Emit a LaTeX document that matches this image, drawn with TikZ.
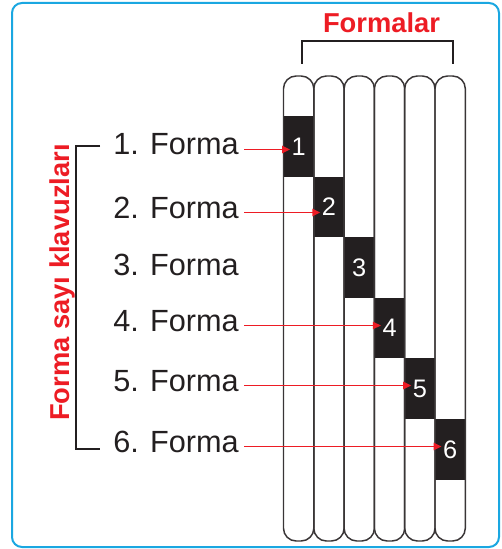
\documentclass[tikz,border=0pt]{standalone}
\usepackage{fontspec}
\setmainfont{Liberation Sans}
\usetikzlibrary{arrows.meta,calc}
\definecolor{frameblue}{HTML}{1AA7E1}
\definecolor{kred}{HTML}{ED1C24}
\definecolor{kdark}{HTML}{231F20}
\tikzset{
  colbox/.style={draw=kdark!90, line width=1.1pt, rounded corners=9.5pt},
  blk/.style={fill=kdark, draw=none},
  numlbl/.style={text=white, font=\fontsize{19}{19}\selectfont, inner sep=1pt},
  formlbl/.style={anchor=base west, text=kdark, inner sep=0pt, font=\fontsize{23}{23}\selectfont},
  arr/.style={draw=kred, line width=1.1pt, -{Triangle[length=6pt,width=5.5pt]}, kred},
  brk/.style={draw=kdark, line width=1.1pt},
  redtitle/.style={text=kred, font=\bfseries\fontsize{20.5}{20.5}\selectfont, inner sep=0pt}
}
\begin{document}
\begin{tikzpicture}[x=0.75pt,y=-0.75pt]
\useasboundingbox (0,0) rectangle (501,549);
% frame
\draw[frameblue, line width=1.5pt, rounded corners=7.5pt] (12,3) rectangle (499,547);
% blocks
\foreach \i in {1,...,6}{
  \pgfmathsetmacro{\xa}{283.5+30.3*(\i-1)}
  \pgfmathsetmacro{\xb}{283.5+30.3*\i}
  \pgfmathsetmacro{\ya}{116+60.6*(\i-1)}
  \pgfmathsetmacro{\yb}{116+60.6*\i}
  \fill[blk] (\xa,\ya) rectangle (\xb,\yb);
  \node[numlbl] (n\i) at ({(\xa+\xb)/2},{(\ya+\yb)/2}) {\i};
}
% columns
\foreach \i in {1,...,6}{
  \pgfmathsetmacro{\xa}{283.5+30.3*(\i-1)}
  \pgfmathsetmacro{\xb}{283.5+30.3*\i}
  \draw[colbox] (\xa,76) rectangle (\xb,541);
}
% top bracket and title
\draw[brk] (302,64) -- (302,41) -- (453,41) -- (453,64);
\node[redtitle, anchor=base] (title) at (381.5,33) {Formalar};
% left bracket and title
\draw[brk] (100,146) -- (76,146) -- (76,449) -- (100,449);
\node[redtitle, anchor=base, rotate=90] (side) at (69,282.5) {Forma sayı klavuzları};
% labels
\node[formlbl] (t1) at (113,155) {1. Forma};
\node[formlbl] (t2) at (113,218) {2. Forma};
\node[formlbl] (t3) at (113,275) {3. Forma};
\node[formlbl] (t4) at (113,331) {4. Forma};
\node[formlbl] (t5) at (113,391) {5. Forma};
\node[formlbl] (t6) at (113,452) {6. Forma};
% arrows
\foreach \i in {1,2,4,5,6}{
  \draw[arr] ($(t\i.base east)+(5,-5.5)$) coordinate (s\i) -- (s\i -| n\i.west);
}
\end{tikzpicture}
\end{document}
